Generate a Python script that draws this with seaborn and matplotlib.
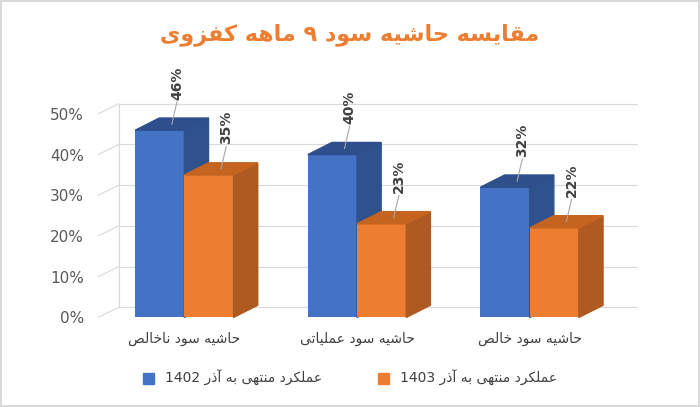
import unicodedata
import matplotlib
matplotlib.use("Agg")
import matplotlib.pyplot as plt
from matplotlib.patches import Polygon, Patch
import seaborn as sns
import pandas as pd

title = "مقایسه حاشیه سود ۹ ماهه کفزوی"
categories = ["حاشیه سود ناخالص", "حاشیه سود عملیاتی", "حاشیه سود خالص"]
series_names = ["عملکرد منتهی به آذر 1402", "عملکرد منتهی به آذر 1403"]
values_1402 = [46, 40, 32]
values_1403 = [35, 23, 22]
yticks = [0, 10, 20, 30, 40, 50]

RIGHT_ONLY = {"ALEF", "ALEF WITH MADDA ABOVE", "DAL", "THAL", "REH", "ZAIN", "WAW", "JEH"}

def _base(ch):
    try:
        n = unicodedata.name(ch)
    except ValueError:
        return None
    if n.startswith("ARABIC LETTER "):
        return n[len("ARABIC LETTER "):]
    return None

def _form(ch, form):
    b = _base(ch)
    try:
        return unicodedata.lookup("ARABIC LETTER " + b + " " + form + " FORM")
    except KeyError:
        return ch

def fa(text):
    chars = list(text)
    out = []
    for i, ch in enumerate(chars):
        b = _base(ch)
        if b is None:
            out.append(ch)
            continue
        prev = chars[i - 1] if i > 0 else None
        nxt = chars[i + 1] if i + 1 < len(chars) else None
        pb = _base(prev) if prev else None
        nb = _base(nxt) if nxt else None
        join_prev = pb is not None and pb not in RIGHT_ONLY
        join_next = nb is not None and b not in RIGHT_ONLY
        if join_prev and join_next:
            f = "MEDIAL"
        elif join_prev:
            f = "FINAL"
        elif join_next:
            f = "INITIAL"
        else:
            f = "ISOLATED"
        out.append(_form(ch, f))
    tokens = []
    for ch in out:
        if ch.isdigit() and tokens and tokens[-1][0].isdigit():
            tokens[-1] += ch
        else:
            tokens.append(ch)
    return "".join(reversed(tokens))

plt.rcParams["font.family"] = "DejaVu Sans"
df = pd.DataFrame({
    "cat": categories * 2,
    "series": [series_names[0]] * 3 + [series_names[1]] * 3,
    "val": values_1402 + values_1403,
})
colors = ["#4472C4", "#ED7D31"]
sides = ["#2F528F", "#AE5A21"]
tops = ["#2E4F8C", "#C5641F"]

fig = plt.figure(figsize=(7, 4.07), dpi=100)
fig.patch.set_edgecolor("#D9D9D9"); fig.patch.set_linewidth(1.5)
ax = fig.add_axes([0.14, 0.22, 0.74, 0.58])
sns.barplot(data=df, x="cat", y="val", hue="series", palette=colors, saturation=1,
            width=0.57, ax=ax, legend=False)
ax.set_xlim(-0.5, 2.5)
ax.set_ylim(0, 58)
gx, gy = 0.12, 2.5
for yv in yticks:
    ax.plot([-0.5, -0.5 + gx], [yv, yv + gy], color="#D9D9D9", lw=0.8, zorder=1, clip_on=False)
    ax.plot([-0.5 + gx, 2.5 + gx], [yv + gy, yv + gy], color="#D9D9D9", lw=0.8, zorder=1, clip_on=False)
ax.plot([-0.5 + gx, -0.5 + gx], [gy, 50 + gy], color="#D9D9D9", lw=0.8, zorder=1, clip_on=False)

n = len(categories)
ddx, ddy = 0.14, 3.0
for i, p in enumerate(ax.patches[:2 * n]):
    s = i // n
    z = 3 + s
    p.set_zorder(z)
    x0, w, h = p.get_x(), p.get_width(), p.get_height()
    x1 = x0 + w
    ax.add_patch(Polygon([(x1, 0), (x1 + ddx, ddy), (x1 + ddx, h + ddy), (x1, h)],
                         color=sides[s], zorder=z, clip_on=False))
    ax.add_patch(Polygon([(x0, h), (x0 + ddx, h + ddy), (x1 + ddx, h + ddy), (x1, h)],
                         color=tops[s], zorder=z, clip_on=False))
    cx = x0 + w / 2 + ddx * 0.5
    ax.plot([cx, cx + 0.03], [h + ddy * 0.5, h + 7], color="#A6A6A6", lw=0.8, zorder=6, clip_on=False)
    ax.text(cx + 0.03, h + 7.5, f"{int(round(h))}%", rotation=90, ha="center", va="bottom",
            fontsize=10, fontweight="bold", color="#404040", zorder=7, clip_on=False)

ax.set_yticks(yticks)
ax.set_yticklabels([f"{v}%" for v in yticks], fontsize=11, color="#595959")
ax.set_xticks(range(n))
ax.set_xticklabels([fa(c) for c in categories], fontsize=10, color="#404040")
ax.tick_params(length=0, pad=10)
ax.set_xlabel(""); ax.set_ylabel("")
for sp in ax.spines.values():
    sp.set_visible(False)
ax.grid(False)

fig.text(0.5, 0.9, fa(title), ha="center", fontsize=16, fontweight="bold", color="#ED7D31")
handles = [Patch(color=colors[0]), Patch(color=colors[1])]
fig.legend(handles, [fa(s) for s in series_names], loc="lower center", ncol=2,
           frameon=False, bbox_to_anchor=(0.5, 0.02), fontsize=10, handlelength=0.8,
           handleheight=0.8, columnspacing=4, labelcolor="#404040")
fig.savefig("out.png", dpi=100)
